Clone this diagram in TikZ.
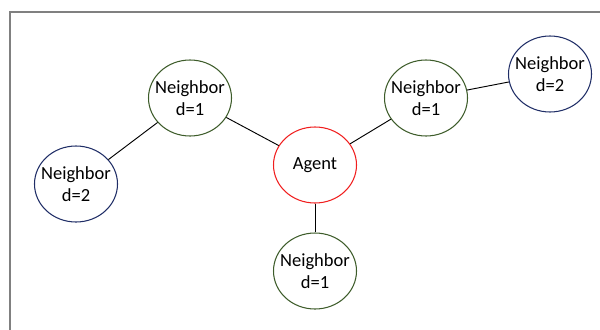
\documentclass[tikz,border=0pt]{standalone}
\usepackage{fontspec}
\setmainfont{Carlito}
\usepackage{tikz}
\usetikzlibrary{shapes.geometric}
\definecolor{agentred}{HTML}{F01E1E}
\definecolor{neargreen}{HTML}{3D5C2A}
\definecolor{farblue}{HTML}{1F2D66}
\definecolor{framegray}{HTML}{808080}

\begin{document}
\begin{tikzpicture}[x=0.03cm, y=-0.03cm,
            agent-node/.style={ellipse,draw=agentred,line width=0.9pt,minimum width=2.49cm,minimum height=2.28cm,inner xsep=-10pt,inner ysep=0pt,align=center,font=\fontsize{15.8}{18.8}\selectfont},
            near-node/.style={agent-node,draw=neargreen},
            far-node/.style={agent-node,draw=farblue},
        ]
            \useasboundingbox (0, 0) rectangle (600, 329);
            \draw[framegray, line width=0.9pt] (10, 340) -- (10, 12) -- (610, 12);

            \node[agent-node] (agent) at (315, 165) {Agent};

            \node[near-node] (n1l) at (190, 98) {Neighbor\\d=1};
            \node[far-node] (n2l) at (76, 184) {Neighbor\\d=2};

            \node[near-node] (n1r) at (426, 98) {Neighbor\\d=1};
            \node[far-node] (n2r) at (550, 74) {Neighbor\\d=2};

            \node[near-node] (n1b) at (315, 271) {Neighbor\\d=1};

            \draw[line width=0.8pt] (agent) -- (n1l);
            \draw[line width=0.8pt] (n1l) -- (n2l);
            \draw[line width=0.8pt] (agent) -- (n1r);
            \draw[line width=0.8pt] (n1r) -- (n2r);
            \draw[line width=0.8pt] (agent) -- (n1b);
        \end{tikzpicture}
\end{document}
